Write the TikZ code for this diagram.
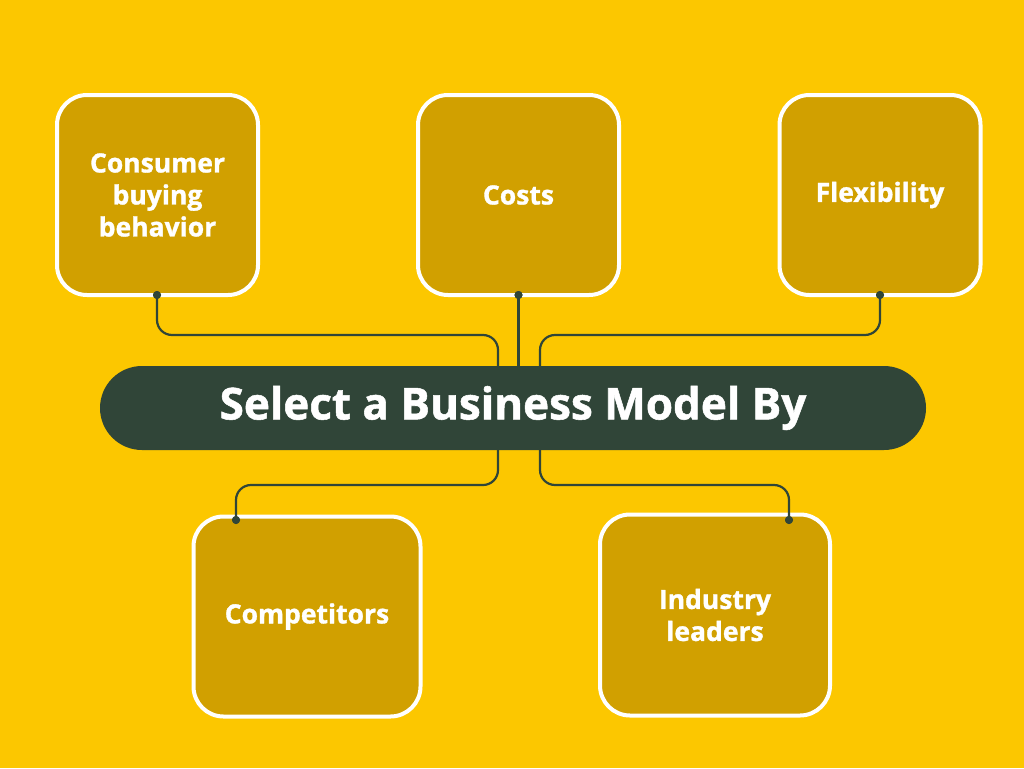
\documentclass[tikz,border=0pt]{standalone}
\usepackage{fontspec}
\setmainfont{Open Sans}[BoldFeatures={FakeBold=1.2}]
\usetikzlibrary{positioning}
\definecolor{bgyellow}{RGB}{252,199,0}
\definecolor{boxfill}{RGB}{209,160,0}
\definecolor{darkgreen}{RGB}{48,69,56}
\begin{document}
\begin{tikzpicture}[x=1pt,y=-1pt,
  topic/.style={draw=white,line width=4pt,fill=boxfill,rounded corners=30pt,
    minimum width=201pt,minimum height=200pt,inner sep=0pt,
    text=white,font=\bfseries\fontsize{26.5}{32}\selectfont,align=center},
  conn/.style={draw=darkgreen,line width=2.2pt,rounded corners=15pt},
  dotc/.style={circle,fill=darkgreen,inner sep=0pt,minimum size=8pt}]
\useasboundingbox (0,0) rectangle (1024,768);
\fill[bgyellow] (0,0) rectangle (1024,768);
% hub
\node[fill=darkgreen,rounded corners=42pt,minimum width=826pt,minimum height=84pt,
  inner sep=0pt,text=white,font=\bfseries\fontsize{44}{50}\selectfont] (hub) at (513,408) {Select a Business Model By};
% topics
\node[topic] (cons) at (157.5,195) {Consumer\\buying\\behavior};
\node[topic] (costs) at (518.5,195) {Costs};
\node[topic] (flex) at (880,195) {Flexibility};
\node[topic,minimum width=227pt,minimum height=200pt] (comp) at (307,616.5) {Competitors};
\node[topic,minimum width=230pt,minimum height=201pt] (ind) at (715,615) {Industry\\leaders};
% anchor points
\coordinate (h1) at (498,367);
\coordinate (h2) at (518.5,367);
\coordinate (h3) at (540,367);
\coordinate (h4) at (498,449);
\coordinate (h5) at (540,449);
\node[dotc] (d1) at (157,295) {};
\node[dotc] (d2) at (518.5,295) {};
\node[dotc] (d3) at (880,295) {};
\node[dotc] (d4) at (236,520) {};
\node[dotc] (d5) at (789,520) {};
% connectors
\draw[conn] (d1.center) -- (157,335) -- (498,335) -- (h1);
\draw[conn] (d2.center) -- (h2);
\draw[conn] (d3.center) -- (880,335) -- (540,335) -- (h3);
\draw[conn] (h4) -- (498,485) -- (236,485) -- (d4.center);
\draw[conn] (h5) -- (540,485) -- (789,485) -- (d5.center);
\node[dotc] at (d1) {};
\node[dotc] at (d2) {};
\node[dotc] at (d3) {};
\node[dotc] at (d4) {};
\node[dotc] at (d5) {};
\end{tikzpicture}
\end{document}
